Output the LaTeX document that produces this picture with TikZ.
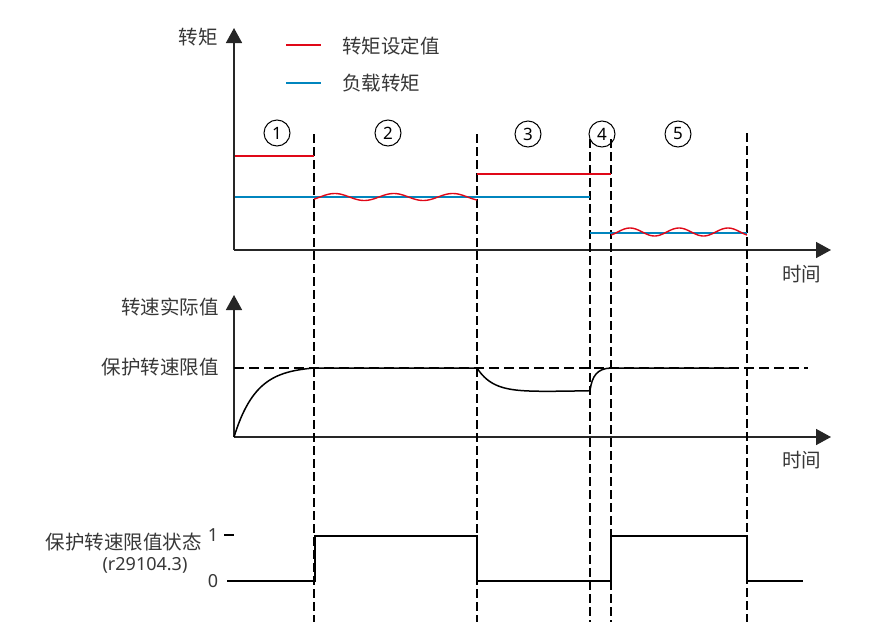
\documentclass[tikz,border=0pt]{standalone}
\usepackage{fontspec}
\setmainfont{Noto Sans}
\newfontfamily\cjk{Noto Sans CJK SC}
\usetikzlibrary{arrows.meta}
\definecolor{tred}{RGB}{224,8,24}
\definecolor{tblue}{RGB}{0,133,190}
\definecolor{txt}{RGB}{55,55,55}
\begin{document}
\begin{tikzpicture}[x=1pt,y=-1pt,
  axisln/.style={line width=1.6pt, black!85, -{Triangle[length=15pt,width=16pt]}},
  guide/.style={line width=2pt, dash pattern=on 9pt off 4pt},
  limitln/.style={line width=1.8pt, dash pattern=on 10pt off 5pt},
  redln/.style={line width=2pt, tred},
  blueln/.style={line width=2pt, tblue},
  wave/.style={line width=1.4pt, tred},
  speedln/.style={line width=1.5pt, black},
  sigln/.style={line width=2.3pt, black},
  lbl/.style={font=\cjk\fontsize{19.5}{23}\selectfont, text=txt, inner sep=0pt},
  latin/.style={font=\fontsize{18}{21}\selectfont, text=txt, inner sep=0pt},
  numc/.style={circle, draw, line width=1pt, minimum size=26pt, inner sep=0pt, font=\fontsize{17}{19}\selectfont}
]
\useasboundingbox (0,0) rectangle (872,635);

% ---------- axes ----------
\coordinate (o1) at (234,250);
\coordinate (t1) at (234,28);
\coordinate (e1) at (831,250);
\coordinate (o2) at (234,437);
\coordinate (t2) at (234,295);
\coordinate (e2) at (831,437);
\draw[axisln] (o1) -- (t1);
\draw[axisln] (o1) -- (e1);
\draw[axisln] (o2) -- (t2);
\draw[axisln] (o2) -- (e2);

% ---------- phase guides ----------
\foreach \n/\gx/\gy in {a/314/134, b/477/134, c/590/139, d/611/139, e/747/133}{
  \coordinate (g\n top) at (\gx,\gy);
  \coordinate (g\n bot) at (\gx,622);
  \draw[guide] (g\n top) -- (g\n bot);
}

% ---------- phase numbers ----------
\node[numc, fill=white] (p1) at (277,133) {1};
\node[numc, fill=white] (p2) at (388,133) {2};
\node[numc, fill=white] (p3) at (528,134) {3};
\node[numc] (p4) at (602,134) {4};
\node[numc, fill=white] (p5) at (678,134) {5};

% ---------- torque plot ----------
\node[lbl, anchor=east] (tq) at (218,37) {转矩};
\coordinate (lr1) at (286,45); \coordinate (lr2) at (321,45);
\coordinate (lb1) at (286,83); \coordinate (lb2) at (321,83);
\draw[redln] (lr1) -- (lr2);
\draw[blueln] (lb1) -- (lb2);
\node[lbl, anchor=west] (legr) at (342,46) {转矩设定值};
\node[lbl, anchor=west] (legb) at (342,83) {负载转矩};

\draw[redln] (235,156) -- (314,156);
\draw[redln] (477,174) -- (611,174);
\draw[blueln] (235,197) -- (590,197);
\draw[blueln] (590,233) -- (747,233);
\draw[wave] plot[domain=314:477, samples=90, smooth] (\x,{197-3.5*sin((\x-320)*6.1017)});
\draw[wave] plot[domain=611:747, samples=80, smooth] (\x,{232-4*sin((\x-617.75)*7.3469)});
\node[lbl, anchor=west] (time1) at (782,274) {时间};

% ---------- speed plot ----------
\node[lbl, anchor=east] (spd) at (219,307) {转速实际值};
\node[lbl, anchor=east] (lim) at (219,367) {保护转速限值};
\coordinate (lim0) at (234,368);
\coordinate (lim1) at (808,368);
\draw[limitln] (lim0) -- (lim1);
\draw[speedln] plot[domain=234:314, samples=60, smooth] (\x,{437-69*(1-exp(-(\x-234)/22))/(1-exp(-80/22))})
  -- (477,368);
\draw[speedln] plot[domain=477:590, samples=60, smooth] (\x,{368+25*(1-exp(-(\x-477)/16))-0.02*(\x-477)})
  .. controls (592,376) and (597,368.5) .. (611,368) -- (730,368);
\node[lbl, anchor=west] (time2) at (782,460) {时间};

% ---------- status signal ----------
\node[lbl, anchor=east] (st) at (202,542) {保护转速限值状态};
\node[latin] (par) at (145,565) {(r29104.3)};
\node[latin] (one) at (213,535) {1};
\node[latin] (zero) at (213,581) {0};
\draw[line width=2pt] (224,535) -- (234,535);
\draw[sigln] (227,581) -- (315,581) -- (315,536) -- (477,536) -- (477,581)
  -- (611,581) -- (611,536) -- (747,536) -- (747,581) -- (803,581);
\end{tikzpicture}
\end{document}
